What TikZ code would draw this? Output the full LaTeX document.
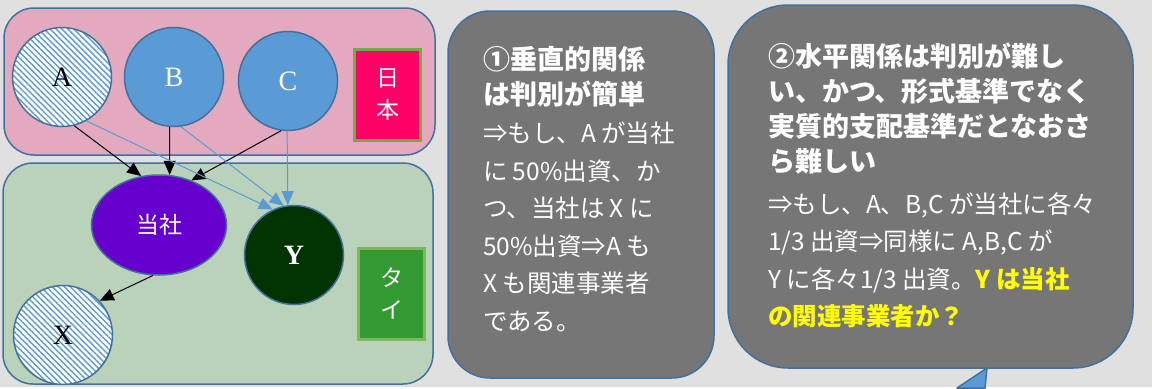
\documentclass[tikz,border=0pt]{standalone}
\usepackage{fontspec}
\setmainfont{Liberation Serif}
\newfontfamily\jp{Noto Sans CJK JP}
\usepackage{tikz}
\usetikzlibrary{positioning}
\usetikzlibrary{patterns.meta}
\usetikzlibrary{arrows.meta}
\usetikzlibrary{shapes.geometric}

\definecolor{bgcol}{HTML}{E0E0E0}
\definecolor{pinkzone}{HTML}{E3AABF}
\definecolor{greenzone}{HTML}{BAD2B9}
\definecolor{frame}{HTML}{41719C}
\definecolor{lblue}{HTML}{5B9BD5}
\definecolor{purp}{HTML}{6600CC}
\definecolor{darkg}{HTML}{003300}
\definecolor{japan}{HTML}{FF0066}
\definecolor{thaig}{HTML}{339933}
\definecolor{tagedge}{HTML}{70AD47}
\definecolor{tagedgeb}{HTML}{7DB85A}
\definecolor{notegray}{HTML}{767676}
\definecolor{ytext}{HTML}{FFFF00}

\begin{document}
\begin{tikzpicture}
[x=1pt,y=-1pt,>={Triangle[length=14pt,width=12pt]},
  zone node/.style={rectangle,draw=frame,line width=1.5pt,rounded
    corners=30pt,inner sep=0pt,outer sep=0pt},
  circ node/.style={circle,draw=frame,line width=1.5pt,minimum
    size=99pt,inner sep=0pt,font=\fontsize{28}{30}\selectfont},
  hatch node/.style={circ node,preaction={fill=white},
    pattern={Lines[angle=135,distance=4.2pt,line width=1.4pt]},
    pattern color=lblue},
  tag node/.style={rectangle,line width=3pt,minimum width=66pt,minimum
    height=91pt,inner sep=0pt,text=white,align=center,
    font=\jp\fontsize{23}{32}\selectfont},
  note node/.style={rectangle,draw=frame,line width=1.5pt,fill=notegray,
    inner sep=0pt,outer sep=0pt},
  head node/.style={inner sep=0pt,outer sep=0pt,align=left,text=white,
    font=\jp\bfseries\fontsize{27}{35}\selectfont},
  body node/.style={inner sep=0pt,outer sep=0pt,align=left,text=white,
    font=\jp\fontsize{24.5}{37.5}\selectfont}]

    \fill[bgcol] (0,0) rectangle (1152,387);

    % countries
    \node [zone node,fill=pinkzone,minimum width=431pt,minimum
      height=147pt] (jpzone) at (219.5,81.5) {};
    \node [zone node,fill=greenzone,minimum width=430pt,minimum
      height=221pt] (thzone) at (218,273.5) {};

    \node [hatch node] (A) at (62,77) {A};
    \node [circ node,fill=lblue,text=white] (B) at (174,77) {B};
    \node [circ node,fill=lblue,text=white] (C) at (288,81) {C};
    \node [tag node,fill=japan,draw=tagedge] (jp) at (387.5,95) {日\\本};

    \node [circ node,ellipse,fill=purp,text=white,minimum width=135pt,
      minimum height=100pt,font=\jp\fontsize{23}{25}\selectfont]
      (tosha) at (159,225) {当社};
    \node [circ node,fill=darkg,text=white,font=\bfseries\fontsize{28}{30}\selectfont]
      (Y) at (294,255) {Y};
    \node [hatch node] (X) at (63,335) {X};
    \node [tag node,fill=thaig,draw=tagedgeb] (th) at (391.5,293.5) {タ\\イ};

    \draw[->,line width=1pt] (A.-76) -- (tosha.110);
    \draw[->,line width=1pt] (B.-95) -- (tosha.78);
    \draw[->,line width=1pt] (C.-98) -- (tosha.54);
    \draw[->,line width=1pt] (tosha.-97) -- (X.43);
    \draw[->,line width=1pt,lblue] (A.-61) -- (Y.115);
    \draw[->,line width=1pt,lblue] (B.-82) -- (Y.102);
    \draw[->,line width=1pt,lblue] (C.-91) -- (Y.97);

    % notes
    \node [note node,rounded corners=42pt,minimum width=266pt,minimum
      height=367pt] (note1) at (581,194.5) {};
    \node [head node,anchor=north west] (h1) at (483,46)
      {①垂直的関係\\は判別が簡単};
    \node [body node,below=15pt of h1.south west,anchor=north west] (b1)
      {⇒もし、A が当社\\に 50\%出資、か\\つ、当社は X に\\50\%出資⇒A も\\X も関連事業者\\である。};

    \node [note node,rounded corners=60pt,minimum width=405pt,minimum
      height=363pt] (note2) at (930.5,186.5) {};
    \coordinate (tip) at (987,368);
    \coordinate (tipl) at (957,388);
    \coordinate (tipr) at (985,388);
    \draw[frame,fill=lblue,line width=1.5pt,line join=round] (tip) -- (tipl) -- (tipr) -- cycle;
    \node [head node,anchor=north west] (h2) at (768,43)
      {②水平関係は判別が難し\\い、かつ、形式基準でなく\\実質的支配基準だとなおさ\\ら難しい};
    \node [body node,below=18pt of h2.south west,anchor=north west] (b2)
      {⇒もし、A、B,C が当社に各々\\1/3 出資⇒同様に A,B,C が\\Y に各々1/3 出資。{\color{ytext}\bfseries Y は当社}\\{\color{ytext}\bfseries の関連事業者か？}};

    \useasboundingbox (0,0) rectangle (1152,387);
\end{tikzpicture}
\end{document}
